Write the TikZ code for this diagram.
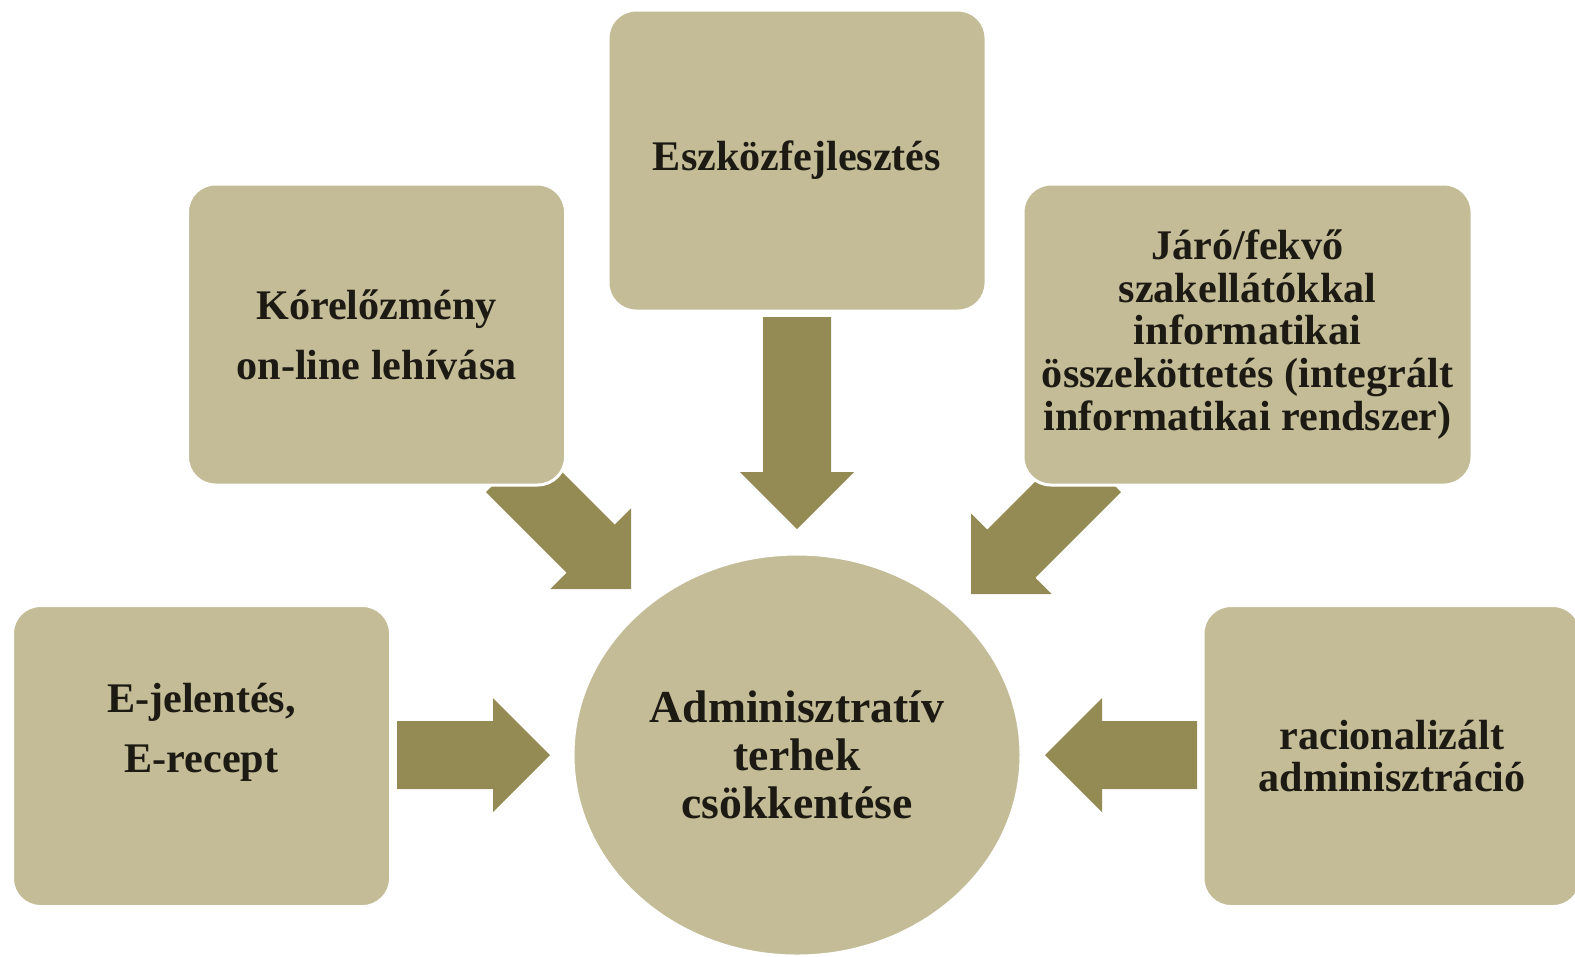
\documentclass[tikz,border=0pt]{standalone}
\usepackage{fontspec}
\setmainfont{Liberation Serif}
\usetikzlibrary{shapes, calc}

\definecolor{boxfill}{HTML}{C4BC97}
\definecolor{arrowfill}{HTML}{948A54}
\definecolor{inktext}{HTML}{1C1A12}

% block arrow from tail #1 to tip #2
\newcommand{\bigarrow}[2]{%
  \coordinate (hb) at ($(#2)!5.7mm!(#1)$);
  \fill[arrowfill] ($(#1)!3.4mm!90:(#2)$) -- ($(hb)!3.4mm!90:(#2)$)
    -- ($(hb)!5.7mm!90:(#2)$) -- (#2) -- ($(hb)!5.7mm!-90:(#2)$)
    -- ($(hb)!3.4mm!-90:(#2)$) -- ($(#1)!3.4mm!-90:(#2)$) -- cycle;
}

\begin{document}
\begin{tikzpicture}[
    x=0.1mm, y=-0.1mm,
    box/.style={rectangle, rounded corners=2.8mm, fill=boxfill, draw=white, line width=0.3mm,
        minimum width=37.8mm, minimum height=30.1mm, inner sep=0pt, align=center,
        text=inktext, font=\bfseries\fontsize{12}{12.2}\selectfont},
    hub/.style={ellipse, fill=boxfill, draw=white, line width=0.3mm,
        minimum width=44.8mm, minimum height=40.2mm, inner sep=0pt, align=center,
        text=inktext, font=\bfseries\fontsize{13}{13.7}\selectfont}
]
    \useasboundingbox (0,0) rectangle (1575,956);

    % arrows first, the boxes sit on top of their tails
    \coordinate (t1) at (797,317);  \coordinate (h1) at (797,529);
    \coordinate (t2) at (510,468);  \coordinate (h2) at (631,589);
    \coordinate (t3) at (1097,468); \coordinate (h3) at (971,594);
    \coordinate (t4) at (397,755);  \coordinate (h4) at (550,755);
    \coordinate (t5) at (1197,755); \coordinate (h5) at (1045,755);
    \bigarrow{t1}{h1}
    \bigarrow{t2}{h2}
    \bigarrow{t3}{h3}
    \bigarrow{t4}{h4}
    \bigarrow{t5}{h5}

    % boxes
    \node[box] (esz) at (797,160.5) {Eszközfejlesztés};
    \node[box, font=\bfseries\fontsize{12}{17}\selectfont] (kor) at (376.5,334.5)
        {Kórelőzmény\\on-line lehívása};
    \node[box, minimum width=44.9mm] (jaro) at (1247.5,334.5)
        {Járó/fekvő\\szakellátókkal\\informatikai\\összeköttetés (integrált\\informatikai rendszer)};
    \node[box, font=\bfseries\fontsize{12}{17}\selectfont] (ejel) at (201.5,756)
        {E-jelentés,\\E-recept\\[-1pt]\mbox{}};
    \node[box] (rac) at (1392,756) {racionalizált\\adminisztráció};
    \node[hub] (hub) at (797,755) {Adminisztratív\\terhek\\csökkentése};
\end{tikzpicture}
\end{document}
